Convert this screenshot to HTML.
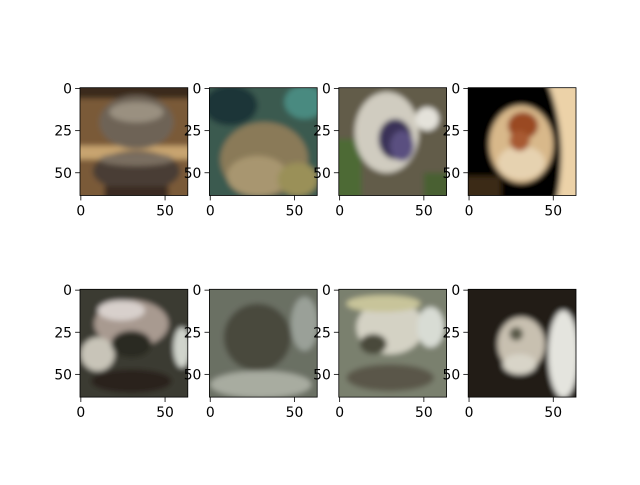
<!DOCTYPE html>
<html><head><meta charset="utf-8"><style>
html,body{margin:0;padding:0;background:#fff;}
svg text{font-family:"DejaVu Sans","Liberation Sans",sans-serif;font-size:13.9px;fill:#000;}
</style></head><body>
<svg id="fig" width="640" height="480" viewBox="0 0 640 480" xmlns="http://www.w3.org/2000/svg">
<defs><filter id="bl" x="-50%" y="-50%" width="200%" height="200%"><feGaussianBlur stdDeviation="1.6"/></filter></defs>
<g id="imgs"></g>
<g id="axes"></g>
</svg>
<script>
const xTicks=[0,50];
const yTicks=[0,25,50];
const imgSize=64;
const axLeft=[80,209.4,338.8,468.2];
const axTop=[87.7,289.3];
const axW=107.8;
const NS='http://www.w3.org/2000/svg';
const scenes=[
`<rect x="-10" y="-10" width="84" height="84" fill="#7a5a38"/>
<rect x="-10" y="-10" width="84" height="16" fill="#3a2a1c"/>
<rect x="-10" y="34" width="84" height="8" fill="#c8a470"/>
<ellipse cx="33" cy="20" rx="22" ry="16" fill="#6e6456"/>
<ellipse cx="33" cy="14" rx="16" ry="6" fill="#9a9080"/>
<ellipse cx="33" cy="49" rx="26" ry="12" fill="#4a3e34"/>
<ellipse cx="33" cy="42" rx="22" ry="4" fill="#7a6e60"/>
<rect x="14" y="58" width="38" height="16" fill="#3a2c22"/>`,
`<rect x="-10" y="-10" width="84" height="84" fill="#3a5a50"/>
<ellipse cx="12" cy="10" rx="16" ry="12" fill="#1e3438"/>
<ellipse cx="56" cy="8" rx="12" ry="10" fill="#4a8a80"/>
<ellipse cx="32" cy="42" rx="26" ry="22" fill="#8a7a58"/>
<ellipse cx="28" cy="52" rx="18" ry="12" fill="#a89670"/>
<ellipse cx="52" cy="54" rx="12" ry="10" fill="#9a9058"/>`,
`<rect x="-10" y="-10" width="84" height="84" fill="#625c48"/>
<rect x="-10" y="30" width="23" height="44" fill="#4e6a34"/>
<ellipse cx="28" cy="26" rx="19" ry="24" fill="#d0ccc0"/>
<ellipse cx="52" cy="18" rx="7" ry="7" fill="#e4e2da"/>
<ellipse cx="33" cy="30" rx="10" ry="12" fill="#3a3258"/>
<ellipse cx="37" cy="34" rx="7" ry="9" fill="#5a5080"/>
<rect x="50" y="50" width="24" height="24" fill="#4a6030"/>`,
`<rect x="-10" y="-10" width="84" height="84" fill="#050302"/>
<path d="M44 -10 L74 -10 L74 74 L50 74 Q62 30 44 -10Z" fill="#ecd2a8"/>
<rect x="-10" y="52" width="29" height="22" fill="#3a2a18"/>
<ellipse cx="31" cy="33" rx="19" ry="23" fill="#d8b88a"/>
<ellipse cx="31" cy="44" rx="14" ry="10" fill="#e6d2b0"/>
<ellipse cx="32" cy="22" rx="9" ry="8" fill="#9a4822"/>
<ellipse cx="30" cy="31" rx="6" ry="6" fill="#a85a30"/>`,
`<rect x="-10" y="-10" width="84" height="84" fill="#3a3a30"/>
<ellipse cx="30" cy="20" rx="22" ry="14" fill="#a89a90"/>
<ellipse cx="24" cy="12" rx="14" ry="6" fill="#d8d0cc"/>
<ellipse cx="10" cy="38" rx="10" ry="10" fill="#c8c4b8"/>
<ellipse cx="60" cy="34" rx="5" ry="12" fill="#d0d4cc"/>
<ellipse cx="30" cy="32" rx="12" ry="8" fill="#2a2a22"/>
<ellipse cx="30" cy="54" rx="24" ry="7" fill="#2a241e"/>`,
`<rect x="-10" y="-10" width="84" height="84" fill="#6a7064"/>
<ellipse cx="28" cy="28" rx="20" ry="20" fill="#4a4a3c"/>
<ellipse cx="56" cy="20" rx="8" ry="16" fill="#9aa098"/>
<ellipse cx="30" cy="56" rx="30" ry="8" fill="#a8aca0"/>`,
`<rect x="-10" y="-10" width="84" height="84" fill="#7a806e"/>
<ellipse cx="30" cy="22" rx="20" ry="16" fill="#d4d2c4"/>
<ellipse cx="26" cy="8" rx="22" ry="5" fill="#c8c49a"/>
<ellipse cx="54" cy="22" rx="8" ry="12" fill="#d8dcd4"/>
<ellipse cx="20" cy="32" rx="8" ry="6" fill="#4a4a3a"/>
<ellipse cx="30" cy="52" rx="26" ry="8" fill="#5a5648"/>`,
`<rect x="-10" y="-10" width="84" height="84" fill="#241e18"/>
<ellipse cx="31" cy="32" rx="14" ry="16" fill="#c8c0b0"/>
<ellipse cx="56" cy="38" rx="9" ry="26" fill="#e4e4de"/>
<ellipse cx="30" cy="44" rx="10" ry="6" fill="#d8d4c8"/>
<ellipse cx="28" cy="26" rx="4" ry="4" fill="#5a5a48"/>`
];
const imgs=document.getElementById('imgs');
const axes=document.getElementById('axes');
function xPix(l,v){return l+(v+0.5)*axW/imgSize;}
function yPix(t,v){return t+(v+0.5)*axW/imgSize;}
let k=0;
for(let r=0;r<2;r++){for(let c=0;c<4;c++){
  const l=axLeft[c],t=axTop[r];
  const s=document.createElementNS(NS,'svg');
  s.setAttribute('x',l);s.setAttribute('y',t);s.setAttribute('width',axW);s.setAttribute('height',axW);
  s.setAttribute('viewBox','-0.5 -0.5 64 64');s.setAttribute('preserveAspectRatio','none');
  
  
  s.innerHTML='<g filter="url(#bl)">'+scenes[k]+'</g>';
  imgs.appendChild(s);
  const fr=document.createElementNS(NS,'rect');
  fr.setAttribute('x',l);fr.setAttribute('y',t);fr.setAttribute('width',axW);fr.setAttribute('height',axW);
  fr.setAttribute('fill','none');fr.setAttribute('stroke','#000');fr.setAttribute('stroke-width','0.8');
  
  
  axes.appendChild(fr);
  xTicks.forEach(v=>{
    const x=xPix(l,v);
    const ln=document.createElementNS(NS,'line');
    ln.setAttribute('x1',x);ln.setAttribute('x2',x);ln.setAttribute('y1',t+axW);ln.setAttribute('y2',t+axW+4.9);
    ln.setAttribute('stroke','#000');ln.setAttribute('stroke-width','0.8');
    
    
    axes.appendChild(ln);
    const tx=document.createElementNS(NS,'text');
    tx.setAttribute('x',x);tx.setAttribute('y',t+axW+20);tx.setAttribute('text-anchor','middle');
    tx.textContent=v;
    
    
    axes.appendChild(tx);
  });
  yTicks.forEach(v=>{
    const y=yPix(t,v);
    const ln=document.createElementNS(NS,'line');
    ln.setAttribute('x1',l-4.9);ln.setAttribute('x2',l);ln.setAttribute('y1',y);ln.setAttribute('y2',y);
    ln.setAttribute('stroke','#000');ln.setAttribute('stroke-width','0.8');
    
    
    axes.appendChild(ln);
    const tx=document.createElementNS(NS,'text');
    tx.setAttribute('x',l-8);tx.setAttribute('y',y+5);tx.setAttribute('text-anchor','end');
    tx.textContent=v;
    
    
    axes.appendChild(tx);
  });
  k++;
}}
</script>
</body></html>
